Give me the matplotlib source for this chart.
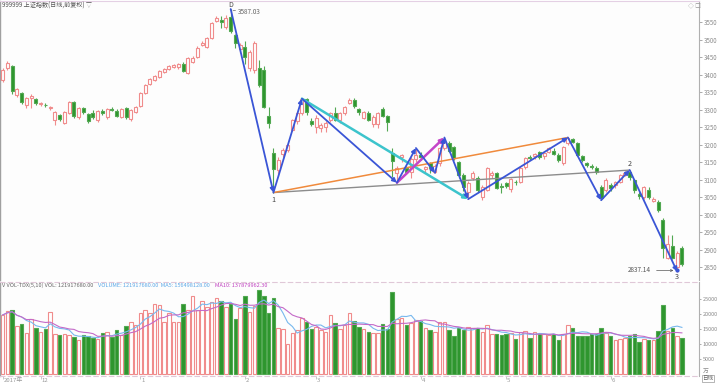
import matplotlib
matplotlib.use('Agg')
import matplotlib.pyplot as plt
import matplotlib.transforms as mtransforms
import numpy as np
import pandas as pd

plt.rcParams['font.family'] = ['Noto Sans CJK SC', 'DejaVu Sans']

# ---------------- data ----------------
opens = [3384, 3419, 3424, 3342, 3347, 3313, 3333, 3330, 3316, 3314,
         3303, 3270, 3284, 3262, 3290, 3322, 3279, 3304, 3287, 3290,
         3270, 3296, 3279, 3302, 3296, 3279, 3304, 3273, 3293, 3310,
         3347, 3373, 3384, 3393, 3407, 3416, 3422, 3422, 3430, 3404,
         3436, 3450, 3484, 3479, 3504, 3553, 3556, 3536, 3564, 3513,
         3473, 3479, 3419, 3413, 3419, 3413, 3282, 3176, 3127, 3173,
         3184, 3242, 3268, 3290, 3330, 3266, 3250, 3248, 3250, 3270,
         3290, 3270, 3290, 3319, 3326, 3301, 3276, 3290, 3259, 3259,
         3301, 3281, 3176, 3119, 3164, 3133, 3122, 3160, 3170, 3130,
         3147, 3122, 3147, 3190, 3204, 3193, 3150, 3113, 3065, 3104,
         3104, 3050, 3070, 3113, 3119, 3082, 3090, 3073, 3094, 3093,
         3136, 3164, 3167, 3178, 3167, 3179, 3182, 3170, 3147, 3205,
         3216, 3204, 3167, 3147, 3139, 3133, 3079, 3070, 3085, 3084,
         3093, 3113, 3122, 3099, 3058, 3050, 3070, 3040, 3036, 2985,
         2877, 2910, 2850, 2904]
highs = [3419, 3439, 3427, 3362, 3350, 3336, 3345, 3333, 3322, 3318,
         3310, 3296, 3287, 3296, 3325, 3325, 3307, 3307, 3290, 3299,
         3299, 3302, 3304, 3307, 3302, 3304, 3307, 3302, 3310, 3350,
         3373, 3390, 3399, 3413, 3419, 3427, 3430, 3433, 3436, 3450,
         3453, 3482, 3496, 3507, 3550, 3567, 3567, 3570, 3587.03, 3516,
         3490, 3495, 3470, 3495, 3442, 3425, 3307, 3190, 3163, 3190,
         3202, 3274, 3292, 3331, 3334, 3275, 3284, 3262, 3266, 3292,
         3307, 3292, 3310, 3332, 3334, 3305, 3296, 3296, 3283, 3293,
         3307, 3284, 3190, 3140, 3172, 3140, 3163, 3190, 3180, 3140,
         3150, 3145, 3192, 3220, 3210, 3196, 3153, 3118, 3095, 3125,
         3110, 3085, 3136, 3125, 3122, 3090, 3094, 3105, 3100, 3138,
         3165, 3170, 3176, 3182, 3178, 3192, 3190, 3175, 3196, 3220,
         3220, 3207, 3170, 3150, 3145, 3138, 3085, 3105, 3090, 3096,
         3116, 3125, 3127, 3101, 3065, 3082, 3080, 3050, 3042, 2990,
         2942, 2942, 2895, 2910]
lows = [3379, 3413, 3344, 3336, 3316, 3304, 3304, 3313, 3310, 3308,
        3298, 3256, 3267, 3259, 3287, 3276, 3273, 3287, 3262, 3274,
        3264, 3285, 3273, 3295, 3279, 3276, 3273, 3268, 3290, 3307,
        3344, 3370, 3381, 3390, 3404, 3413, 3419, 3416, 3407, 3402,
        3433, 3447, 3482, 3476, 3502, 3550, 3533, 3530, 3520, 3476,
        3462, 3430, 3410, 3405, 3365, 3304, 3247, 3062.74, 3110, 3165,
        3180, 3238, 3260, 3285, 3285, 3252, 3233, 3237, 3236, 3265,
        3266, 3262, 3285, 3315, 3305, 3285, 3273, 3267, 3251, 3246,
        3279, 3240, 3107, 3091, 3150, 3115, 3104, 3150, 3155, 3118,
        3120, 3119, 3140, 3185, 3178, 3155, 3105, 3066, 3044, 3100,
        3063, 3042, 3066, 3105, 3073, 3062, 3076, 3065, 3085, 3090,
        3130, 3155, 3160, 3160, 3160, 3175, 3170, 3150, 3142, 3200,
        3205, 3167, 3150, 3137, 3130, 3115, 3041, 3065, 3068, 3075,
        3090, 3110, 3100, 3062, 3045, 3045, 3045, 3035, 3008, 2876,
        2873, 2872, 2837.14, 2852]
closes = [3413, 3433, 3353, 3359, 3322, 3333, 3339, 3319, 3319, 3312,
          3306, 3293, 3273, 3293, 3322, 3282, 3304, 3293, 3267, 3280,
          3296, 3290, 3301, 3299, 3282, 3301, 3279, 3299, 3307, 3347,
          3370, 3387, 3396, 3410, 3416, 3424, 3427, 3430, 3410, 3447,
          3447, 3476, 3490, 3504, 3547, 3562, 3550, 3562, 3524, 3490,
          3484, 3450, 3464, 3490, 3370, 3307, 3262, 3130, 3156, 3184,
          3199, 3270, 3289, 3329, 3292, 3259, 3276, 3256, 3262, 3290,
          3271, 3289, 3307, 3326, 3310, 3292, 3292, 3270, 3280, 3290,
          3281, 3263, 3152, 3133, 3170, 3122, 3158, 3170, 3163, 3136,
          3133, 3138, 3190, 3208, 3182, 3162, 3113, 3079, 3090, 3119,
          3070, 3079, 3133, 3119, 3076, 3078, 3082, 3102, 3092, 3133,
          3162, 3162, 3173, 3164, 3176, 3190, 3173, 3156, 3193, 3219,
          3208, 3170, 3156, 3142, 3136, 3122, 3048, 3099, 3076, 3093,
          3113, 3119, 3107, 3070, 3052, 3079, 3050, 3044, 3013, 2904,
          2917, 2876, 2890, 2859]
# volume in units of 10,000
volumes = [19800, 21200, 21600, 16100, 16800, 13900, 18600, 15600, 14200, 15000,
           20800, 13400, 13100, 13400, 13100, 12500, 11400, 13100, 12800, 12000,
           11700, 13900, 14200, 12500, 14800, 13100, 16200, 17500, 16400, 20500,
           21400, 20300, 23600, 23100, 17500, 20300, 17500, 17500, 23400, 21400,
           26100, 21600, 24500, 22500, 24200, 25300, 24500, 22500, 23600, 18600,
           22000, 26200, 20700, 22700, 28100, 26100, 20300, 25600, 15300, 15000,
           10100, 13600, 14800, 18900, 17500, 15000, 15900, 14800, 14200, 19800,
           17000, 15000, 16400, 20600, 17700, 15900, 15000, 14200, 13900, 13900,
           16800, 15100, 27500, 18400, 18900, 16400, 17000, 18100, 17700, 15300,
           14800, 14200, 17500, 17500, 14800, 12800, 15300, 14800, 15900, 15300,
           15300, 14000, 16400, 13500, 13400, 13000, 13400, 13900, 11800, 14000,
           14500, 12200, 14000, 13400, 13400, 13100, 13400, 11400, 13400, 16400,
           15600, 12600, 12800, 12800, 13400, 13400, 15600, 13900, 12600, 11400,
           11800, 12200, 12800, 13400, 10900, 11800, 11500, 11400, 14300, 23200,
           14400, 15600, 12800, 12192]

month_idx = [0, 8, 29, 51, 66, 88, 106, 128]
month_labels = ['2017年', '12', '1', '2', '3', '4', '5', '6']

# zigzag wave pivots (candle index, price)
wave_idx = [48, 57, 63, 83, 87, 91, 93, 98, 119, 126, 132, 142]
wave_px = [3587.03, 3062.74, 3331, 3091, 3190, 3119, 3220, 3044, 3220, 3041, 3127, 2837.14]
# extra trend lines: (start idx, start px), (end idx, end px)
cyan_line = [(63, 3331), (98, 3044)]
orange_line = [(57, 3062.74), (119, 3220)]
gray_line = [(57, 3062.74), (132, 3127)]
magenta_line = [(83, 3091), (93, 3220)]

title = '999999 上证指数(日线,前复权) ▽'
vol_texts = [('V VOL-TDX(5,10) VOL: 121917680.00', '#666666'),
             ('VOLUME: 121917680.00  MA5: 156498128.00', '#5aa8e8'),
             ('MA10: 137879962.30', '#c040c0')]

# ---------------- figure ----------------
n = min(len(opens), len(highs), len(lows), len(closes), len(volumes))
x = np.arange(n)
o = np.array(opens[:n], float); h = np.array(highs[:n], float)
l = np.array(lows[:n], float); c = np.array(closes[:n], float)
v = np.array(volumes[:n], float)
up = c >= o

RED = '#f08c8c'
GREEN = '#2e962e'
GREEN_E = '#52a852'

fig = plt.figure(figsize=(7.2, 3.83), dpi=100)
fig.patch.set_facecolor('white')
W, H = 720.0, 383.0
ax_p = fig.add_axes([0, (H - 280) / H, 699 / W, 279 / H])
ax_v = fig.add_axes([0, (H - 376) / H, 699 / W, 94 / H])

for ax in (ax_p, ax_v):
    ax.set_facecolor('#fdfdfd')
    ax.set_xlim(-0.57, 146.6)

# candles
face = np.where(up, 'white', GREEN)
edge = np.where(up, RED, GREEN_E)
ax_p.vlines(x, l, h, colors=edge, linewidth=0.8, zorder=2)
body_h = np.maximum(np.abs(c - o), 1.5)
body_b = np.minimum(o, c)
ax_p.bar(x, body_h, bottom=body_b, width=0.62, color=face, edgecolor=edge,
         linewidth=0.8, zorder=3)
ax_p.set_ylim(2813, 3610)


def arrow(ax, p0, p1, color, lw, head=True):
    ax.annotate('', xy=p1, xytext=p0,
                arrowprops=dict(arrowstyle='-|>' if head else '-', color=color, lw=lw,
                                mutation_scale=6, shrinkA=0, shrinkB=0),
                zorder=5)


arrow(ax_p, gray_line[0], gray_line[1], '#8c8c8c', 1.0, head=False)
arrow(ax_p, orange_line[0], orange_line[1], '#f08a3c', 1.1, head=False)
arrow(ax_p, cyan_line[0], cyan_line[1], '#3cc4cc', 1.8)
arrow(ax_p, magenta_line[0], magenta_line[1], '#c445c8', 1.8)
for k in range(len(wave_idx) - 1):
    arrow(ax_p, (wave_idx[k], wave_px[k]), (wave_idx[k + 1], wave_px[k + 1]), '#3a55d6', 1.3)

# pivot labels
ax_p.text(wave_idx[0], wave_px[0] + 12, 'D', fontsize=5, color='#444', ha='center', va='center')
ax_p.annotate(f'{wave_px[0]:.2f}', xy=(wave_idx[0] + 0.5, wave_px[0] - 4),
              xytext=(wave_idx[0] + 1.6, wave_px[0] - 8),
              fontsize=4.6, color='#666', va='center', ha='left',
              arrowprops=dict(arrowstyle='-', color='#666', lw=0.5))
ax_p.text(wave_idx[1], wave_px[1] - 10, '1', fontsize=5.2, color='#444', ha='center', va='top')
ax_p.text(wave_idx[10], wave_px[10] + 6, '2', fontsize=5.2, color='#444', ha='center', va='bottom')
ax_p.text(wave_idx[11], wave_px[11] - 4, '3', fontsize=5.2, color='#444', ha='center', va='top')
ax_p.annotate(f'{wave_px[11]:.2f}', xy=(wave_idx[11] - 0.2, wave_px[11] + 3),
              xytext=(wave_idx[11] - 5.5, wave_px[11] + 3),
              fontsize=4.6, color='#555', va='center', ha='right',
              arrowprops=dict(arrowstyle='->', color='#555', lw=0.5, mutation_scale=4))
ax_p.plot([wave_idx[11]], [wave_px[11] + 3], 'o', ms=2, color='#3a55d6', zorder=6)

# axes styling price
ax_p.yaxis.tick_right()
ax_p.set_yticks(np.arange(2850, 3551, 50))
ax_p.tick_params(axis='y', labelsize=4.4, colors='#8a8a8a', length=2, width=0.5, pad=1.5)
ax_p.set_xticks([])
ax_p.spines['left'].set_color('#a0a0a0')
ax_p.spines['left'].set_linewidth(1.0)
ax_p.spines['right'].set_color('#b0b0b0')
ax_p.spines['right'].set_linewidth(0.8)
ax_p.spines['top'].set_color('#e4d0e4')
ax_p.spines['top'].set_linewidth(0.8)
ax_p.spines['bottom'].set_visible(False)

# volume
vface = np.where(up, 'white', GREEN)
vedge = np.where(up, RED, GREEN_E)
ax_v.bar(x, v, width=0.72, color=vface, edgecolor=vedge, linewidth=0.8, zorder=2)
vs = pd.Series(v)
ma5 = vs.rolling(5, min_periods=1).mean()
ma10 = vs.rolling(10, min_periods=1).mean()
ax_v.plot(x, ma5, color='#78b8ee', lw=0.8, zorder=3)
ax_v.plot(x, ma10, color='#c46ac8', lw=0.8, zorder=3)
ax_v.set_ylim(-570, 30770)
ax_v.yaxis.tick_right()
ax_v.set_yticks([5000, 10000, 15000, 20000, 25000])
ax_v.tick_params(axis='y', labelsize=4.0, colors='#8a8a8a', length=1.5, width=0.5, pad=1)
ax_v.set_xticks(month_idx)
ax_v.set_xticklabels([])
ax_v.tick_params(axis='x', colors='#b0b0b0', length=2, width=0.5)
trans = mtransforms.blended_transform_factory(ax_v.transData, fig.transFigure)
for mi, ml in zip(month_idx, month_labels):
    ax_v.text(mi + 0.2, 1 - 382.5 / H, ml, transform=trans, fontsize=4.3, color='#9a9a9a',
              ha='left', va='bottom', clip_on=False)
for s in ('top', 'bottom'):
    ax_v.spines[s].set_linestyle((0, (4, 3)))
    ax_v.spines[s].set_color('#e0c8d8')
    ax_v.spines[s].set_linewidth(0.8)
ax_v.spines['left'].set_color('#a0a0a0')
ax_v.spines['left'].set_linewidth(1.0)
ax_v.spines['right'].set_color('#b0b0b0')
ax_v.spines['right'].set_linewidth(0.8)

# header texts
fig.text(2 / W, 1 - 6 / H, title, fontsize=4.4, color='#555', va='center', ha='left')
fig.text(688 / W, 1 - 5.5 / H, '◇ □', fontsize=4.2, color='#999', va='center', ha='left')

renderer = fig.canvas.get_renderer()
xpos = 2.0
yv = 1 - 285.5 / H
for txt, col in vol_texts:
    t = fig.text(xpos / W, yv, txt, fontsize=4.0, color=col, va='center', ha='left')
    bb = t.get_window_extent(renderer=renderer)
    xpos = bb.x1 + 5

fig.text(706 / W, 1 - 371 / H, '万', fontsize=4.2, color='#888', va='center', ha='center')
fig.text(708 / W, 1 - 378.5 / H, '日线', fontsize=4.0, color='#666', va='center', ha='center',
         bbox=dict(boxstyle='square,pad=0.1', fc='white', ec='#999', lw=0.5))

fig.savefig('out.png', dpi=100, facecolor='white')
